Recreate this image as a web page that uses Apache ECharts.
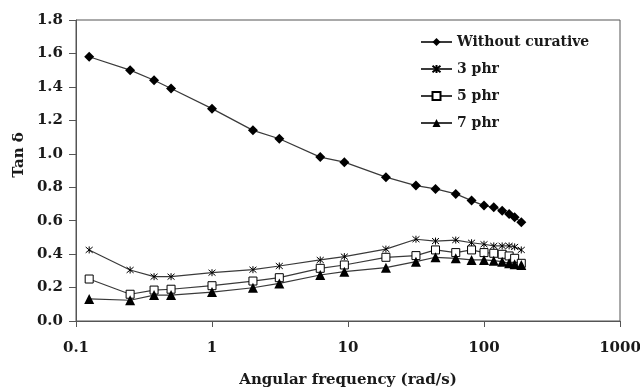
<!DOCTYPE html>
<html>
<head>
<meta charset="utf-8">
<script src="https://cdn.jsdelivr.net/npm/echarts@6/dist/echarts.min.js"></script>
<style>
html,body{margin:0;padding:0;background:#fff;}
#chart{width:640px;height:388px;}
</style>
</head>
<body>
<div id="chart"></div>
<script>
// Angular frequency (rad/s)
var frequency = [0.125, 0.25, 0.375, 0.5, 1, 2, 3.125, 6.25, 9.4, 19, 31.6, 44, 62, 81, 100, 118, 136, 153, 168, 188];
var withoutCurative = [1.58, 1.50, 1.44, 1.39, 1.27, 1.14, 1.09, 0.98, 0.95, 0.86, 0.81, 0.79, 0.76, 0.72, 0.69, 0.68, 0.66, 0.64, 0.62, 0.59];
var phr3 = [0.425, 0.305, 0.265, 0.265, 0.289, 0.307, 0.329, 0.365, 0.385, 0.43, 0.489, 0.478, 0.484, 0.468, 0.459, 0.449, 0.449, 0.449, 0.443, 0.425];
var phr5 = [0.251, 0.160, 0.185, 0.19, 0.211, 0.239, 0.259, 0.315, 0.335, 0.381, 0.391, 0.425, 0.409, 0.425, 0.409, 0.405, 0.399, 0.389, 0.375, 0.345];
var phr7 = [0.132, 0.124, 0.155, 0.155, 0.173, 0.199, 0.225, 0.275, 0.295, 0.319, 0.355, 0.381, 0.375, 0.365, 0.365, 0.361, 0.355, 0.345, 0.339, 0.335];
var seriesNames = ['Without curative', '3 phr', '5 phr', '7 phr'];
var xTicks = [0.1, 1, 10, 100, 1000];

function pairs(vals) {
  return frequency.map(function (f, i) { return [f, vals[i]]; });
}

var FONT = '"DejaVu Serif", "Liberation Serif", serif';
var LINE = '#3a3a3a';
var AXIS = '#555';
var TXT = '#1a1a1a';
var asterisk = 'path://M0,0L10,10M10,0L0,10M5,-1L5,11';

var chart = echarts.init(document.getElementById('chart'), null, {renderer: 'canvas'});
chart.setOption({
  animation: false,
  backgroundColor: '#fff',
  grid: {left: 76, right: 20, top: 20, bottom: 67, containLabel: false, outerBoundsMode: 'none',
    show: true, borderColor: AXIS, borderWidth: 1, backgroundColor: 'transparent'},
  legend: {
    orient: 'vertical', left: 415, top: 30,
    itemWidth: 31, itemHeight: 10, itemGap: 13,
    textStyle: {fontFamily: FONT, fontSize: 14, fontWeight: 'bold', color: TXT},
    data: seriesNames
  },
  xAxis: {
    type: 'log', logBase: 10, min: 0.1, max: 1000,
    name: 'Angular frequency (rad/s)', nameLocation: 'middle', nameGap: 52,
    nameTextStyle: {fontFamily: FONT, fontSize: 15, fontWeight: 'bold', color: TXT},
    axisLine: {lineStyle: {color: AXIS, width: 1}},
    axisTick: {show: true, inside: false, length: 6, lineStyle: {color: AXIS}},
    axisLabel: {fontFamily: FONT, fontSize: 15, fontWeight: 'bold', color: TXT, margin: 20,
      formatter: function (v) { return xTicks.indexOf(+v) >= 0 ? String(v) : ''; }},
    splitLine: {show: false}, minorTick: {show: false}
  },
  yAxis: {
    type: 'value', min: 0, max: 1.8, interval: 0.2,
    axisLine: {show: true, lineStyle: {color: AXIS, width: 1}},
    axisTick: {show: true, inside: false, length: 7, lineStyle: {color: AXIS}},
    axisLabel: {fontFamily: FONT, fontSize: 15, fontWeight: 'bold', color: TXT, margin: 13,
      formatter: function (v) { return v.toFixed(1); }},
    splitLine: {show: false}
  },
  graphic: [{
    type: 'text', x: 19, y: 155, rotation: Math.PI / 2,
    style: {text: 'Tan δ', font: 'bold 15px ' + FONT, fill: TXT, textAlign: 'center', textVerticalAlign: 'middle'}
  }],
  series: [
    {name: seriesNames[0], type: 'line', data: pairs(withoutCurative), symbol: 'diamond', symbolSize: 10,
      lineStyle: {color: LINE, width: 1.2}, itemStyle: {color: '#000'}},
    {name: seriesNames[1], type: 'line', data: pairs(phr3), symbol: asterisk, symbolSize: 7,
      lineStyle: {color: LINE, width: 1.2}, itemStyle: {color: '#000', borderColor: '#000', borderWidth: 1}},
    {name: seriesNames[2], type: 'line', data: pairs(phr5), symbol: 'rect', symbolSize: 8,
      lineStyle: {color: LINE, width: 1.2}, itemStyle: {color: '#fff', borderColor: '#000', borderWidth: 1}},
    {name: seriesNames[3], type: 'line', data: pairs(phr7), symbol: 'triangle', symbolSize: 10,
      lineStyle: {color: LINE, width: 1.2}, itemStyle: {color: '#000'}}
  ]
});
</script>
</body>
</html>
